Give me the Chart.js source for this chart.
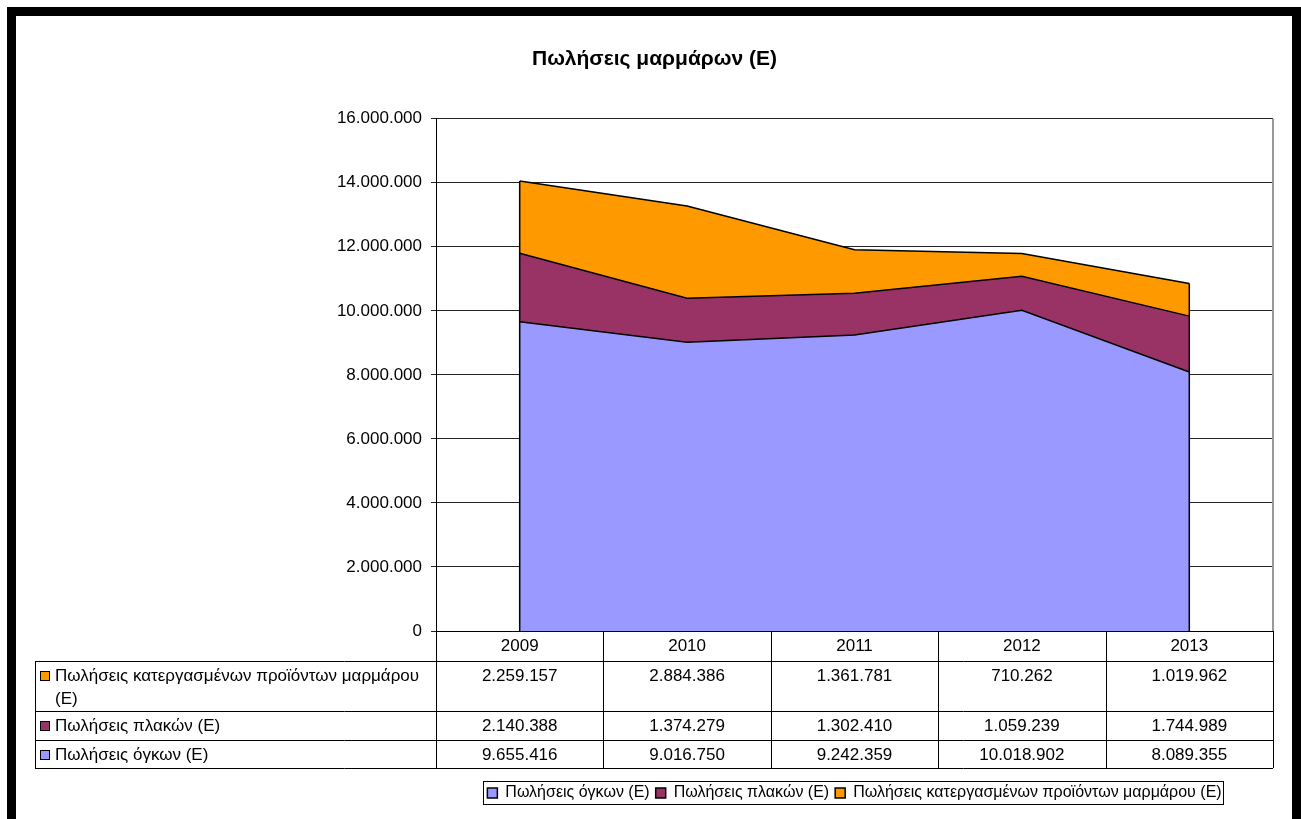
<!DOCTYPE html>
<html>
<head>
<meta charset="utf-8">
<script src="https://cdn.jsdelivr.net/npm/chart.js@4.4.1/dist/chart.umd.min.js"></script>
<style>
  html, body { margin: 0; padding: 0; background: #fff; }
  #wrap { position: relative; width: 1301px; height: 819px; }
</style>
</head>
<body>
<div id="wrap"><canvas id="chart" width="1301" height="819"></canvas></div>
<script>
let chart_title = 'Πωλήσεις μαρμάρων (Ε)';
let years = ['2009', '2010', '2011', '2012', '2013'];

let series_names = [
    'Πωλήσεις όγκων (Ε)',
    'Πωλήσεις πλακών (Ε)',
    'Πωλήσεις κατεργασμένων προϊόντων μαρμάρου (Ε)'
];
let blocks_sales    = [9655416, 9016750, 9242359, 10018902, 8089355];
let slabs_sales     = [2140388, 1374279, 1302410, 1059239, 1744989];
let processed_sales = [2259157, 2884386, 1361781, 710262, 1019962];

let y_ticks_max = 16000000;
let y_ticks_step = 2000000;

let font_family = '"Liberation Sans", Arial, sans-serif';

// 9.655.416 style
let fmt = function(n) {
    return String(n).replace(/\B(?=(\d{3})+(?!\d))/g, '.');
};

// black frame round the page, like the pasted sheet object
let frame_plugin = {
    id: 'frame',
    beforeDraw(chart) {
        let c = chart.ctx;
        c.save();
        c.fillStyle = '#fff';
        c.fillRect(0, 0, chart.width, chart.height);
        c.restore();
    },
    afterDraw(chart) {
        let c = chart.ctx;
        c.save();
        c.fillStyle = '#000';
        c.fillRect(7, 7, chart.width - 7, 9);
        c.fillRect(7, 7, 9, chart.height - 7);
        c.fillRect(chart.width - 9, 7, 9, chart.height - 7);
        c.restore();
    }
};

// Excel closes the area at both ends with a vertical edge
let area_edges_plugin = {
    id: 'areaEdges',
    afterDatasetsDraw(chart) {
        let c = chart.ctx;
        let x = chart.scales.x, y = chart.scales.y;
        let sets = chart.data.datasets;
        let last = years.length - 1;
        c.save();
        c.strokeStyle = '#000';
        c.lineWidth = 1.5;
        [0, last].forEach(i => {
            let total = sets.reduce((a, d) => a + d.data[i], 0);
            let px = x.getPixelForValue(i);
            c.beginPath();
            c.moveTo(px, y.getPixelForValue(0));
            c.lineTo(px, y.getPixelForValue(total));
            c.stroke();
        });
        // plot area border (right side, gray)
        let a = chart.chartArea;
        c.strokeStyle = '#9a9a9a';
        c.lineWidth = 2;
        c.beginPath();
        c.moveTo(a.right, a.top);
        c.lineTo(a.right, a.bottom);
        c.stroke();
        c.restore();
    }
};

let wrap_text = function(c, text, max_width) {
    let words = text.split(' ');
    let lines = [];
    let cur = '';
    words.forEach(w => {
        let test = cur ? cur + ' ' + w : w;
        if (cur && c.measureText(test).width > max_width) {
            lines.push(cur);
            cur = w;
        } else {
            cur = test;
        }
    });
    if (cur) lines.push(cur);
    return lines;
};

// data table under the x axis
let data_table_plugin = {
    id: 'dataTable',
    afterDraw(chart) {
        let c = chart.ctx;
        let x = chart.scales.x;
        let a = chart.chartArea;
        let sets = chart.data.datasets;
        let col_w = (a.right - a.left) / years.length;
        let table_left = 35;
        let header_bottom = a.bottom + 30;
        let row_heights = [50, 29, 28];
        let order = [2, 1, 0];

        c.save();
        c.font = '17px ' + font_family;
        c.fillStyle = '#000';
        c.strokeStyle = '#000';
        c.lineWidth = 1;

        let row_tops = [];
        let yy = header_bottom;
        row_heights.forEach(h => { row_tops.push(yy); yy += h; });
        let table_bottom = yy;

        // horizontal lines
        c.beginPath();
        [header_bottom].concat(row_tops.slice(1), [table_bottom]).forEach(ly => {
            c.moveTo(table_left, Math.round(ly) + 0.5);
            c.lineTo(a.right, Math.round(ly) + 0.5);
        });
        // vertical lines
        c.moveTo(table_left + 0.5, header_bottom);
        c.lineTo(table_left + 0.5, table_bottom);
        for (let i = 0; i <= years.length; i++) {
            let lx = Math.round(a.left + i * col_w) + 0.5;
            c.moveTo(lx, a.bottom);
            c.lineTo(lx, table_bottom);
        }
        c.stroke();

        order.forEach((di, r) => {
            let ds = sets[di];
            let top = row_tops[r];
            // key square
            c.fillStyle = ds.backgroundColor;
            c.fillRect(40, top + 10, 10, 10);
            c.strokeStyle = '#000';
            c.strokeRect(40.5, top + 10.5, 9, 9);
            // label
            c.fillStyle = '#000';
            c.textAlign = 'left';
            c.textBaseline = 'middle';
            let lines = wrap_text(c, ds.label, a.left - 55 - 2);
            lines.forEach((ln, k) => c.fillText(ln, 55, top + 15 + k * 23));
            // values
            c.textAlign = 'center';
            ds.data.forEach((v, i) => {
                c.fillText(fmt(v), x.getPixelForValue(i), top + 15);
            });
        });

        // frame round the legend
        let legend = chart.legend;
        if (legend && legend.legendHitBoxes && legend.legendHitBoxes.length) {
            let boxes = legend.legendHitBoxes;
            let l = Math.min(...boxes.map(b => b.left));
            let r = Math.max(...boxes.map(b => b.left + b.width));
            let t = Math.min(...boxes.map(b => b.top));
            let b = Math.max(...boxes.map(b => b.top + b.height));
            c.strokeStyle = '#000';
            c.strokeRect(Math.round(l - 4) + 0.5, Math.round(t - 4) + 0.5,
                         Math.round(r - l + 6), Math.round(b - t + 7));
        }
        c.restore();
    }
};

let ctx = document.getElementById('chart').getContext('2d');

let chart = new Chart(ctx, {
    type: 'line',
    data: {
        labels: years,
        datasets: [{
            label: series_names[0],
            data: blocks_sales,
            backgroundColor: '#9999FF',
            borderColor: '#000',
            borderWidth: 1.5,
            fill: 'origin',
        }, {
            label: series_names[1],
            data: slabs_sales,
            backgroundColor: '#993366',
            borderColor: '#000',
            borderWidth: 1.5,
            fill: '-1',
        }, {
            label: series_names[2],
            data: processed_sales,
            backgroundColor: '#FF9900',
            borderColor: '#000',
            borderWidth: 1.5,
            fill: '-1',
        }],
    },
    options: {
        responsive: false,
        animation: false,
        elements: {
            point: { radius: 0, hoverRadius: 0 },
            line: { tension: 0 }
        },
        layout: {
            padding: { left: 36, right: 28, top: 0, bottom: 8 }
        },
        scales: {
            x: {
                offset: true,
                grid: { display: false },
                border: { display: true, color: '#000', width: 1 },
                ticks: {
                    color: '#000',
                    font: { family: font_family, size: 17 },
                    padding: -3,
                    maxRotation: 0,
                },
                afterFit: scale => { scale.height = 148; },
            },
            y: {
                stacked: true,
                min: 0,
                max: y_ticks_max,
                grid: { color: '#222', tickLength: 5 },
                border: { display: true, color: '#000', width: 1 },
                ticks: {
                    stepSize: y_ticks_step,
                    color: '#000',
                    padding: 9,
                    font: { family: font_family, size: 17 },
                    callback: v => fmt(v),
                },
                afterFit: scale => { scale.width = 400; },
            }
        },
        plugins: {
            title: {
                display: true,
                text: chart_title,
                color: '#000',
                font: { family: font_family, size: 21, weight: 'bold' },
                padding: { top: 47, bottom: 46.5 },
            },
            legend: {
                position: 'bottom',
                fullSize: false,
                labels: {
                    color: '#000',
                    font: { family: font_family, size: 16 },
                    boxWidth: 10,
                    boxHeight: 10,
                    padding: 6,
                }
            },
            tooltip: { enabled: false },
            filler: { propagate: false },
        }
    },
    plugins: [frame_plugin, area_edges_plugin, data_table_plugin],
});
</script>
</body>
</html>
